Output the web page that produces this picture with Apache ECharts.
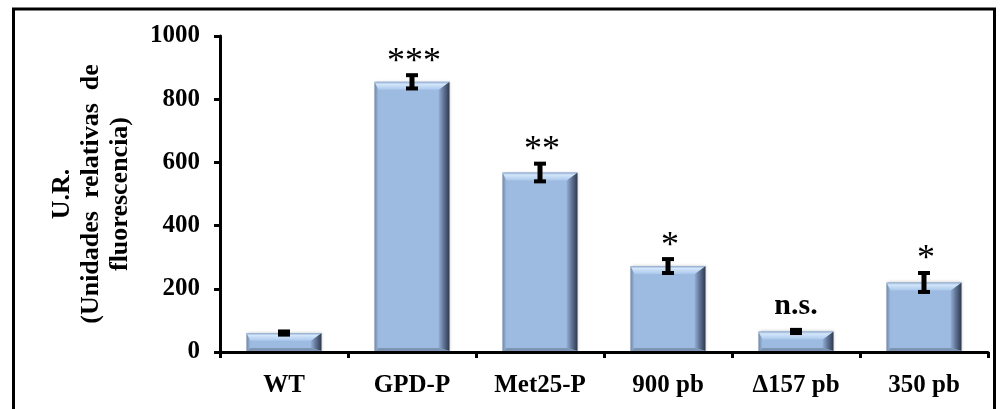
<!DOCTYPE html>
<html>
<head>
<meta charset="utf-8">
<script src="https://cdn.jsdelivr.net/npm/echarts@6/dist/echarts.min.js"></script>
<style>html,body{margin:0;padding:0;background:#fff;}#c{width:1006px;height:409px;}</style>
</head>
<body>
<div id="c"></div>
<script>
const categories = ['WT', 'GPD-P', 'Met25-P', '900 pb', '\u0394157 pb', '350 pb'];
const values = [60, 855, 568, 272, 65, 220];
const errors = [5, 21, 28, 22, 5, 30];
const signif = ['', '***', '**', '*', 'n.s.', '*'];
const yMin = 0, yMax = 1000, yStep = 200;
const yTitle = ['U.R.', '(Unidades  relativas  de', 'fluorescencia)'];

const FONT = '"Liberation Serif", "Times New Roman", serif';
const chart = echarts.init(document.getElementById('c'));

function renderBar(params, api) {
  const i = api.value(0), v = api.value(1);
  const top = api.coord([i, v]);
  const base = api.coord([i, 0]);
  const w = api.size([1, 0])[0] * 0.585;
  const x0 = top[0] - w / 2, x1 = top[0] + w / 2, y0 = top[1], y1 = base[1] - 1;
  const h = y1 - y0;
  const b = Math.min(8, h / 2.3);
  const bl = Math.min(4, b * 0.5), br = Math.min(11, b * 1.35);
  const bb = Math.min(3, b * 0.4);
  return {
    type: 'group',
    children: [
      { type: 'rect', shape: { x: x0, y: y0, width: w, height: h }, style: { fill: '#9dbbe1', shadowBlur: 3, shadowColor: 'rgba(0,0,0,0.25)', shadowOffsetX: 1 } },
      { type: 'polygon', shape: { points: [[x0, y0], [x0 + bl, y0 + b], [x0 + bl, y1 - bb], [x0, y1]] },
        style: { fill: new echarts.graphic.LinearGradient(0, 0, 1, 0, [{ offset: 0, color: '#7488a3' }, { offset: 1, color: '#9dbbe1' }]) } },
      { type: 'polygon', shape: { points: [[x1, y0], [x1, y1], [x1 - br, y1 - bb], [x1 - br, y0 + b]] },
        style: { fill: new echarts.graphic.LinearGradient(0, 0, 1, 0, [{ offset: 0, color: '#93afd3' }, { offset: 0.45, color: '#62769a' }, { offset: 1, color: '#2f3a48' }]) } },
      { type: 'polygon', shape: { points: [[x0, y1], [x1, y1], [x1 - br, y1 - bb], [x0 + bl, y1 - bb]] },
        style: { fill: '#7d94b3' } },
      { type: 'polygon', shape: { points: [[x0, y0], [x1, y0], [x1 - br, y0 + b], [x0 + bl, y0 + b]] },
        style: { fill: new echarts.graphic.LinearGradient(0, 0, 0, 1, [{ offset: 0, color: '#8fa9cc' }, { offset: 0.3, color: '#d3e6fb' }, { offset: 1, color: '#a9c7eb' }]) } }
    ]
  };
}

function renderErr(params, api) {
  const i = api.value(0), v = api.value(1), e = api.value(2);
  const hi = api.coord([i, v + e]);
  const lo = api.coord([i, v - e]);
  const cx = hi[0];
  const cw = 12;
  const s = signif[params.dataIndex];
  const children = [
    { type: 'line', shape: { x1: cx, y1: hi[1], x2: cx, y2: lo[1] }, style: { stroke: '#000', lineWidth: 5 } },
    { type: 'line', shape: { x1: cx - cw / 2, y1: hi[1], x2: cx + cw / 2, y2: hi[1] }, style: { stroke: '#000', lineWidth: 4 } },
    { type: 'line', shape: { x1: cx - cw / 2, y1: lo[1], x2: cx + cw / 2, y2: lo[1] }, style: { stroke: '#000', lineWidth: 4 } }
  ];
  if (s) {
    const isNs = s === 'n.s.';
    children.push({
      type: 'text',
      x: cx + (isNs ? 0 : 2), y: hi[1] - (isNs ? 24 : 13),
      style: {
        text: s, fill: '#000',
        font: (isNs ? 'bold 30px ' : 'normal 36px ') + FONT,
        align: 'center', verticalAlign: 'middle'
      }
    });
  }
  return { type: 'group', children };
}

const option = {
  animation: false,
  backgroundColor: '#fff',
  grid: { left: 220, right: 18, top: 36, bottom: 57, containLabel: false },
  xAxis: {
    type: 'category',
    data: categories,
    axisLine: { show: true, lineStyle: { color: '#000', width: 3 } },
    axisTick: { show: true, length: 6, lineStyle: { color: '#000', width: 3 } },
    axisLabel: { color: '#000', fontFamily: FONT, fontWeight: 'bold', fontSize: 25, margin: 21 },
    splitLine: { show: false }
  },
  yAxis: {
    type: 'value',
    min: yMin, max: yMax, interval: yStep,
    axisLine: { show: true, lineStyle: { color: '#000', width: 3 } },
    axisTick: { show: true, length: 6, lineStyle: { color: '#000', width: 3 } },
    axisLabel: { color: '#000', fontFamily: FONT, fontWeight: 'bold', fontSize: 25, margin: 20, formatter: (v) => String(v) },
    splitLine: { show: false }
  },
  graphic: [
    { type: 'rect', shape: { x: 13.5, y: 9, width: 981, height: 420 }, style: { fill: 'none', stroke: '#000', lineWidth: 3 }, z: 100 },
    { type: 'text', x: 91, y: 194, rotation: Math.PI / 2,
      style: { text: yTitle.join('\n'), fill: '#000', font: 'bold 26px ' + FONT, align: 'center', verticalAlign: 'middle', lineHeight: 29 } }
  ],
  series: [
    { type: 'custom', renderItem: renderBar, data: values.map((v, i) => [i, v]), z: 2 },
    { type: 'custom', renderItem: renderErr, data: values.map((v, i) => [i, v, errors[i]]), z: 3 }
  ]
};
chart.setOption(option);
</script>
</body>
</html>
